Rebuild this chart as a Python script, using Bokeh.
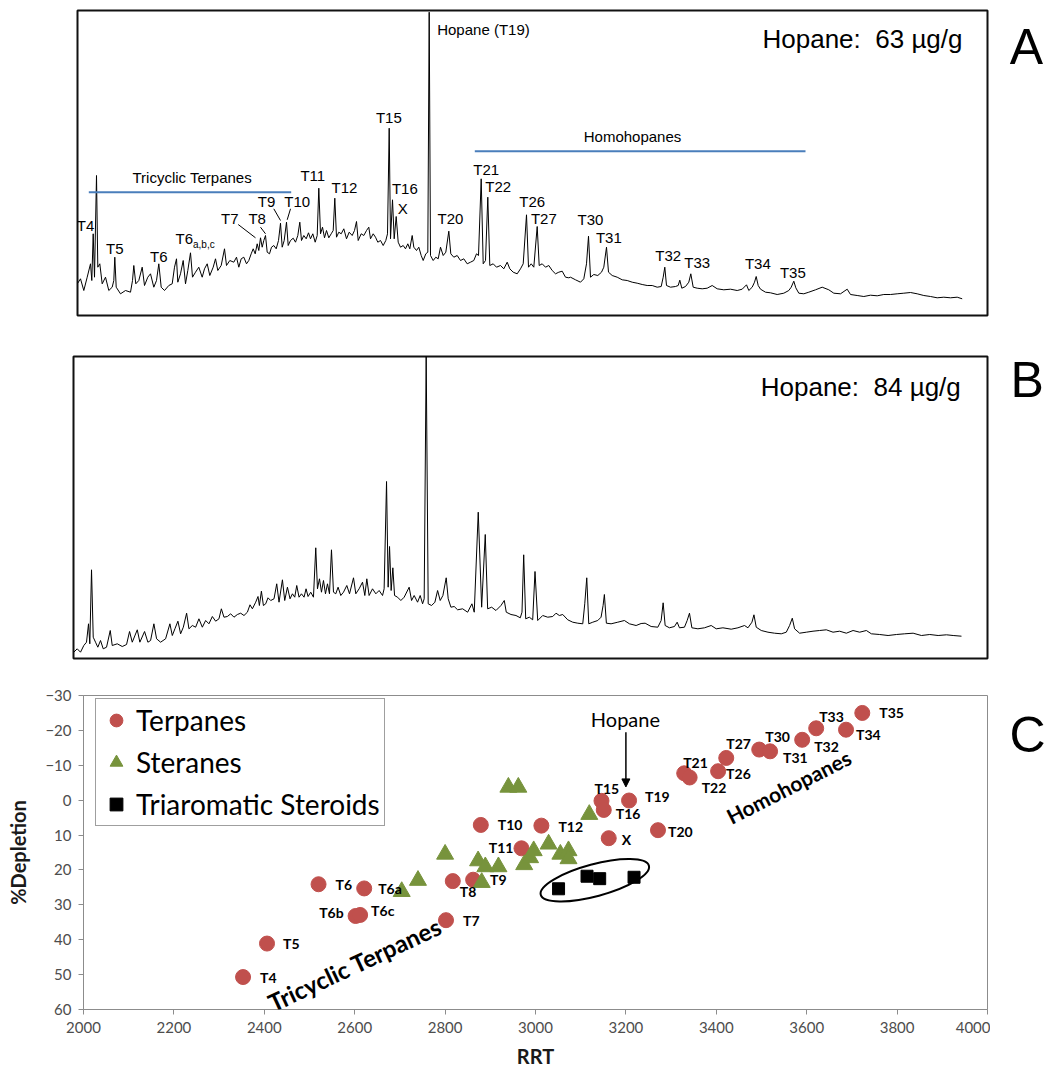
import math
from bokeh.plotting import figure
from bokeh.layouts import column, row
from bokeh.models import (Range1d, Label, Legend, LegendItem, FixedTicker, Arrow,
                          NormalHead)
from bokeh.core.properties import value
from bokeh.embed import file_html
from bokeh.resources import INLINE

# ---------------------------------------------------------------- DATA
# Panel A chromatogram (m/z 191), scan vs abundance
a_scan = [
    0, 3, 6.3, 9.7, 13, 14.3, 15.7, 17, 19, 20.3,
    22.3, 24.7, 28, 31.3, 34.7, 36.3, 37.3, 38.7, 43, 48,
    53, 55, 56.3, 58.3, 61.3, 64.7, 67, 70.3, 73, 76.3,
    79, 81.3, 83.7, 87, 91.3, 94.7, 97, 99, 100.3, 103,
    105.7, 108, 110.3, 113, 115, 118, 121.3, 124.7, 127, 129.7,
    132.3, 135.7, 138, 140.3, 143.7, 147, 149, 152.3, 156.3, 159,
    161.3, 163.7, 166.3, 169, 171.3, 173.7, 175.7, 177.7, 179.7, 181.3,
    183, 184.7, 186.3, 188, 189.7, 192, 194, 196.3, 198.7, 201,
    203, 204.7, 206.7, 209, 210.7, 213, 215.7, 218, 220.3, 222.3,
    224, 226.3, 228.7, 231, 233, 235.3, 237.7, 239.7, 241.3, 243,
    245, 247, 249, 251.3, 253.7, 255.7, 257.3, 259, 261.3, 263.7,
    266.3, 269, 271.7, 274.7, 277, 279, 280.7, 283.7, 286.3, 289,
    291.3, 293, 295.7, 298, 300.3, 303, 305.7, 308.3, 310, 311.7,
    313, 315, 316.7, 318.7, 320.7, 323, 325.7, 328, 330.3, 332.3,
    334.7, 336.3, 339, 341.3, 343.7, 345.7, 348.3, 350.3, 351.7, 353,
    355.7, 358.3, 360.7, 363, 365.7, 368.3, 371.3, 373.3, 376.3, 379.7,
    383, 386.3, 389.7, 393, 396.3, 399, 401, 403.7, 405.7, 408,
    410.3, 412.3, 415.7, 419, 423, 426.3, 429.7, 432.3, 435.7, 439.7,
    443, 445.7, 449, 451, 453.7, 456.3, 459.7, 461.7, 464.7, 468,
    471.3, 474.7, 478, 481.3, 484.7, 488, 491.3, 493, 498, 503,
    506.3, 509, 511, 513, 516.3, 520.3, 524, 526.3, 529, 531,
    534.7, 539.7, 544.7, 549.7, 554.7, 559.7, 564.7, 569.7, 574.7, 579.7,
    583.7, 585.7, 587.3, 589, 593, 598, 600.7, 602.3, 604.3, 608,
    611.3, 613.3, 615.7, 619.7, 624.7, 629.7, 634.7, 639.7, 646.3, 653,
    659.7, 664.7, 669, 671.3, 674.7, 677, 678.7, 680.7, 683, 688,
    693, 699.7, 706.3, 711.3, 713.7, 716.3, 718.3, 721.3, 726.3, 731.3,
    738, 744.7, 751.3, 756.3, 763, 769.7, 773, 779.7, 786.3, 793,
    799.7, 806.3, 813, 819.7, 826.3, 833, 839.7, 846.3, 853, 859.7,
    866.3, 873, 879.7, 884.7,
]
a_abund = [
    32, 36.7, 25, 38.3, 51.7, 35, 81.7, 38.3, 140, 48.3,
    51.7, 31.7, 38.3, 25, 28.3, 35, 58.3, 28.3, 21.7, 25,
    23.3, 35, 50, 31.7, 35, 48.3, 30, 38.3, 41.7, 28.3,
    35, 51.7, 28.3, 25, 30, 31.7, 48.3, 56.7, 33.3, 41.7,
    55, 31.7, 45, 62.7, 38.3, 43.3, 48.3, 38.3, 46.7, 51.7,
    40, 48.3, 56.7, 45, 50, 66.7, 50, 55, 53.3, 58.3,
    48.3, 56.7, 58.3, 51.7, 55, 61.7, 66.7, 61.7, 71.7, 65,
    77.7, 68.3, 75, 80, 63.3, 61.7, 68.3, 70, 66.7, 75,
    92.3, 68.3, 75, 93.3, 70, 75, 77.3, 73.3, 80, 93.3,
    75, 80, 76.7, 82.7, 76.7, 81.7, 73.3, 80, 127.3, 81.7,
    88.3, 77.7, 85, 77.7, 81.7, 85, 117.3, 78.3, 83.3, 81.7,
    86.7, 76.7, 83.3, 80, 85, 94, 75, 81.7, 80, 85,
    88.3, 76.7, 81.7, 78.3, 73.3, 75, 70, 75, 81.7, 187.3,
    76.7, 115.7, 76.7, 99, 73.3, 68.3, 70, 66.7, 71.7, 66.7,
    80, 68.3, 65, 68.3, 60, 55, 61.7, 63.3, 303.3, 60,
    55, 58.3, 56.7, 68.3, 60, 63.3, 84.3, 61.7, 58.3, 60,
    55, 56.7, 51.7, 53.3, 55, 61.7, 60, 136.7, 51.7, 55,
    118.3, 50, 51.7, 48.3, 50, 46.7, 53.3, 46.7, 43.3, 41.7,
    46.7, 51.7, 100.7, 48.3, 51.7, 48.3, 89, 50, 51.7, 48.3,
    50, 45, 41.7, 43.3, 44.3, 38.3, 37.7, 38.3, 35.7, 33.3,
    36.7, 51.7, 79.3, 38.3, 41, 40, 43.3, 48.3, 68.3, 43.3,
    40, 38.3, 35.7, 35, 33.3, 32.3, 31, 30, 30, 28.3,
    29, 38.3, 48.3, 30, 28.3, 29, 30, 35.3, 27.3, 29,
    33.3, 41.7, 28.3, 27.3, 26.7, 27.3, 30, 26.7, 25.7, 26.3,
    25, 26.3, 30.7, 25, 28.3, 33.3, 39, 30, 26.3, 23.3,
    22.7, 21, 22.3, 25, 28.3, 34.3, 27.7, 22.3, 21.7, 23.3,
    25.7, 28.3, 25.7, 22.3, 21.7, 26.3, 21, 20, 19, 20.3,
    19.7, 21, 21, 21.7, 22.3, 23, 21.7, 20, 19, 17.7,
    18.3, 17.7, 18.3, 16.7,
]

# Panel B chromatogram
b_scan = [
    0.3, 3.7, 7, 10.3, 13, 15, 16.3, 18, 19.7, 22,
    24.3, 27, 29.7, 33, 36.7, 38.7, 43.7, 48.7, 53, 56,
    58.7, 63.7, 66.3, 71, 74.3, 77, 80.3, 83, 87, 92,
    96.3, 98.7, 101.3, 104.3, 107, 109.7, 113, 115.3, 118.7, 122,
    125.3, 128.7, 132, 135.3, 138.7, 142, 145.3, 147.7, 150.3, 153.7,
    157, 160.3, 163.7, 167, 170.3, 173.7, 176.3, 178.7, 182, 184.3,
    185.7, 187.7, 189.7, 192, 194.3, 197, 200.3, 203, 205.3, 208.7,
    211, 213.7, 216.3, 218.7, 221, 223, 225.3, 227.7, 230.3, 232.3,
    234.3, 237, 239.7, 242, 243.7, 245.7, 247.7, 249.7, 251.7, 253.7,
    255.7, 257.7, 259.7, 262, 264.3, 267, 269.7, 273, 275.7, 279.7,
    282, 285.3, 288.7, 291, 293, 295.3, 298.7, 302, 305.3, 308.7,
    310.3, 312.7, 314.3, 315.7, 317.3, 319, 320.7, 323.7, 327, 330.3,
    335.3, 337.7, 340.3, 343.7, 346.3, 348.7, 350.3, 352.3, 354.3, 357.7,
    361, 363.7, 366.3, 369, 372.3, 374.3, 377, 380.3, 383.7, 388.7,
    393.7, 398, 400.3, 404.3, 407.7, 411.3, 413.7, 417.7, 422, 427,
    430.3, 432.3, 437, 442, 446.3, 448, 449.7, 451.7, 455.3, 458.7,
    461, 463.7, 468.7, 473.7, 478.7, 482, 485.3, 488.7, 493.7, 498.7,
    503.7, 508.7, 510.7, 512.7, 514.7, 518.7, 523.7, 527, 529, 530.3,
    532.3, 537, 543.7, 550.3, 555.3, 562, 567, 571, 577, 583.7,
    587, 589, 591, 595.3, 600.3, 603, 605.3, 610.3, 613, 615.3,
    617.7, 623.7, 630.3, 637, 642, 648.7, 657, 663.7, 670.3, 673.7,
    677.7, 679.7, 682, 687, 693.7, 700.3, 707, 712, 715.3, 718,
    720.3, 725.3, 732, 738.7, 745.3, 752, 758.7, 765.3, 772, 778.7,
    785.3, 792, 797, 805.3, 813.7, 822, 830.3, 838.7, 847, 855.3,
    863.7, 872, 878.7, 887,
]
b_abund = [
    6.3, 9.7, 6.3, 13, 16.3, 34.7, 14.7, 88.7, 21.3, 16.3,
    11.3, 18, 9.7, 11.3, 28, 13, 14.7, 12, 14, 27,
    16.3, 28.7, 16.3, 27, 16.3, 18, 34.7, 19.7, 16.3, 19.7,
    34.7, 23, 29.7, 37.3, 24.7, 31.3, 45.3, 29.7, 33, 31.3,
    39.7, 31.3, 38, 34.7, 42, 37.3, 39.7, 49.7, 41.3, 42,
    44.7, 41.3, 44, 45.3, 43, 46.3, 53.7, 49.7, 56.3, 62,
    53, 67.3, 53, 54.7, 60.7, 58, 59.7, 74.7, 56.3, 78.7,
    58, 71.3, 59.7, 64.7, 61.3, 73, 61.3, 64.7, 61.3, 69.7,
    62, 66.3, 61.3, 110.7, 69.7, 79.7, 66.3, 78, 64.7, 74.7,
    64.7, 108.7, 66.3, 64.7, 71.3, 63, 66.3, 73, 64.7, 80.7,
    64.7, 69.7, 76.3, 63, 79.7, 63, 69.7, 64.7, 68, 63,
    69.7, 177, 71.3, 112, 68, 90.7, 63, 61.3, 58, 61.3,
    71.3, 58, 63, 56.3, 63, 54.7, 59.7, 303, 54.7, 53,
    56.3, 68, 58, 63, 80.7, 59.7, 51.3, 52, 48.7, 49.7,
    46.3, 54.7, 46.3, 146.3, 51.3, 124, 49.7, 51.3, 48, 53,
    58, 46.3, 44, 43, 40.7, 46.3, 103.7, 39.7, 41.3, 38.7,
    87, 38, 43, 41.3, 42, 45.3, 43, 44, 38.7, 36.3,
    35.3, 34.7, 54.7, 80.7, 34.7, 36.3, 38, 41.3, 53, 64,
    35.3, 34.7, 36.3, 38, 34.7, 33, 35, 35.3, 32, 31.3,
    38, 55.7, 33, 30.7, 32, 36.3, 30.7, 31.3, 38, 45.3,
    30.7, 29.7, 30.7, 33, 29.7, 30.7, 29.3, 30.7, 33, 30.7,
    36.3, 43.7, 31.3, 28, 26.3, 25.3, 24.7, 26.3, 33, 40.3,
    29.7, 25.3, 26.3, 27.3, 28, 28.7, 26.3, 27.3, 25.3, 28,
    26.3, 28, 24.7, 24, 23, 24, 24.7, 25.3, 23, 24,
    23, 23.7, 23, 22.3,
]

hopane_a = "Hopane:\u00a0 63 µg/g"
hopane_b = "Hopane:\u00a0 84 µg/g"

# Panel C: % depletion vs relative retention time
terp_names = ["T4", "T5", "T6", "T6a", "T6b", "T6c", "T7", "T8", "T9", "T10",
              "T11", "T12", "T15", "T16", "X", "T19", "T20", "T21", "T22", "T26",
              "T27", "T30", "T31", "T32", "T33", "T34", "T35"]
terp_rrt = [2353, 2406, 2520, 2621, 2602, 2612, 2802, 2817, 2862, 2879,
            2969, 3013, 3146, 3151, 3162, 3207, 3271, 3329, 3341, 3404,
            3422, 3495, 3519, 3590, 3621, 3687, 3723]
terp_dep = [50.7, 41.1, 24.1, 25.3, 33.2, 32.9, 34.4, 23.2, 22.8, 7.1,
            13.8, 7.3, 0.2, 2.8, 10.9, 0.1, 8.6, -7.7, -6.5, -8.3,
            -12.1, -14.5, -14.0, -17.3, -20.6, -20.2, -25.0]

ster_rrt = [2704, 2740, 2800, 2873, 2889, 2881, 2918, 2940, 2962, 2975,
            2988, 2996, 3029, 3055, 3073, 3073, 3119]
ster_dep = [26.2, 23.0, 15.5, 17.4, 19.1, 23.6, 19.1, -3.7, -3.7, 18.5,
            16.5, 14.5, 12.6, 15.5, 14.5, 16.8, 4.1]

tas_rrt = [3051, 3114, 3142, 3218]
tas_dep = [25.4, 21.8, 22.5, 22.1]

# ---------------------------------------------------------------- LAYOUT / STYLE
SANS = "Liberation Sans"
CAL = "Lato"
BLUE = "#4a7ebb"
RED = "#C0504D"
GREEN = "#77933C"
GREY = "#8c8c8c"

# peak annotations in panel A: (text, scan, abundance)
A_LABELS = [("T4", 8, 90), ("T5", 37.3, 66.7), ("T6", 81.3, 59),
            ("T7", 152.3, 96.7), ("T8", 179.7, 96.7), ("T9", 189, 114),
            ("T10", 219.7, 114), ("T11", 235.3, 140), ("T12", 267, 128.3),
            ("T15", 311.3, 198.3), ("T16", 327.3, 126.7), ("X", 325.3, 107.3),
            ("T20", 373, 97.3), ("T21", 408.7, 145.7), ("T22", 420.7, 129),
            ("T26", 454.7, 114), ("T27", 466.3, 96.7), ("T30", 513, 95.7),
            ("T31", 531.3, 77.7), ("T32", 590.7, 60), ("T33", 619.7, 53.3),
            ("T34", 680.3, 51.7), ("T35", 715.3, 43.3)]
A_LEADERS = [(160.7, 91, 178, 77.7), (183, 88.3, 188, 81.7),
             (196.3, 106.7, 203, 95), (213, 106.7, 209.7, 95.7)]

# label offsets (screen px) for panel C
C_OFF = {"T4": (17, 0), "T5": (16, 0), "T6": (17, 0), "T6a": (14, 0),
         "T6b": (-12, -3), "T6c": (11, -4), "T7": (17, 0), "T8": (7, 10),
         "T9": (17, 0), "T10": (17, 0), "T11": (-8, -1), "T12": (17, 1),
         "T15": (-7, -12), "T16": (12, 4), "X": (13, 1), "T19": (16, -4),
         "T20": (10, 1), "T21": (-1, -11), "T22": (12, 10), "T26": (8, 2),
         "T27": (0, -14), "T30": (6, -13), "T31": (13, 6), "T32": (12, 7),
         "T33": (3, -12), "T34": (10, 5), "T35": (17, 0)}
C_RIGHT = {"T6b", "T11"}


def chrom_fig(height, left, top, bottom, xmax, ymax):
    p = figure(width=990, height=height, x_range=Range1d(0, xmax),
               y_range=Range1d(0, ymax), output_backend="svg",
               toolbar_location=None, x_axis_location=None, y_axis_location=None,
               min_border_left=left, min_border_right=3,
               min_border_top=top, min_border_bottom=bottom, frame_align=False)
    p.xgrid.visible = False
    p.ygrid.visible = False
    p.outline_line_color = "#111111"
    p.outline_line_width = 2
    p.background_fill_color = "white"
    p.border_fill_color = "white"
    return p


def letter_fig(height, letter, x, y):
    f = figure(width=57, height=height, x_range=Range1d(0, 57),
               y_range=Range1d(0, height), output_backend="svg",
               toolbar_location=None, x_axis_location=None, y_axis_location=None,
               min_border=0, frame_align=False)
    f.xgrid.visible = False
    f.ygrid.visible = False
    f.outline_line_color = None
    f.text(x=[x], y=[y], text=[letter], text_align="center",
           text_baseline="alphabetic", text_font=value(SANS),
           text_font_size="50px", text_color="black")
    return f


# ---------------------------------------------------------------- PANEL A
pa = chrom_fig(335, 77, 10, 20, 910, 305)
pa.line(a_scan, a_abund, line_color="black", line_width=1)
pa.segment(x0=[11.3, 397.3], y0=[123.3, 164.3], x1=[213.7, 728], y1=[123.3, 164.3],
           line_color=BLUE, line_width=2)
pa.segment(x0=[s[0] for s in A_LEADERS], y0=[s[1] for s in A_LEADERS],
           x1=[s[2] for s in A_LEADERS], y1=[s[3] for s in A_LEADERS],
           line_color="black", line_width=1)
pa.text(x=[l[1] for l in A_LABELS], y=[l[2] for l in A_LABELS],
        text=[l[0] for l in A_LABELS], text_align="center", text_baseline="middle",
        text_font=value(SANS), text_font_size="15px", text_color="black")
pa.add_layout(Label(x=98, y=76.7, text="T6", text_font=SANS, text_font_size="15px",
                    text_baseline="middle", text_color="black"))
pa.add_layout(Label(x=115.5, y=71.5, text="a,b,c", text_font=SANS,
                    text_font_size="10px", text_baseline="middle", text_color="black"))
pa.add_layout(Label(x=359.7, y=285.7, text="Hopane (T19)", text_font=SANS,
                    text_font_size="15px", text_baseline="middle", text_color="black"))
pa.add_layout(Label(x=114.7, y=138.3, text="Tricyclic Terpanes", text_font=SANS,
                    text_font_size="15px", text_align="center", text_baseline="middle",
                    text_color="black"))
pa.add_layout(Label(x=555, y=179, text="Homohopanes", text_font=SANS,
                    text_font_size="15px", text_align="center", text_baseline="middle",
                    text_color="black"))
pa.add_layout(Label(x=885, y=277, text=hopane_a, text_font=SANS,
                    text_font_size="26px", text_align="right", text_baseline="middle",
                    text_color="black"))
la = letter_fig(335, "A", 36, 289)

# ---------------------------------------------------------------- PANEL B
pb = chrom_fig(340, 73, 21, 17, 913, 302)
pb.line(b_scan, b_abund, line_color="black", line_width=1)
pb.add_layout(Label(x=886.3, y=271.3, text=hopane_b, text_font=SANS,
                    text_font_size="26px", text_align="right", text_baseline="middle",
                    text_color="black"))
lb = letter_fig(340, "B", 36.7, 296)

# ---------------------------------------------------------------- PANEL C
pc = figure(width=990, height=400, x_range=Range1d(2000, 4000),
            y_range=Range1d(60, -30), output_backend="svg", toolbar_location=None,
            min_border_left=83, min_border_right=3, min_border_top=20,
            min_border_bottom=66, frame_align=False)
pc.xgrid.visible = False
pc.ygrid.visible = False
pc.outline_line_color = GREY
pc.background_fill_color = "white"
pc.border_fill_color = "white"
pc.xaxis.ticker = FixedTicker(ticks=list(range(2000, 4001, 200)))
pc.yaxis.ticker = FixedTicker(ticks=list(range(-30, 61, 10)))
pc.xaxis.axis_label = "RRT"
pc.yaxis.axis_label = "%Depletion"
for ax in (pc.xaxis[0], pc.yaxis[0]):
    ax.axis_line_color = GREY
    ax.major_tick_line_color = GREY
    ax.minor_tick_line_color = None
    ax.major_tick_out = 5
    ax.major_tick_in = 0
    ax.major_label_text_font = CAL
    ax.major_label_text_font_size = "15px"
    ax.major_label_text_color = "#4d4d4d"
    ax.major_label_standoff = 7
    ax.axis_label_text_font = CAL
    ax.axis_label_text_font_style = "bold"
    ax.axis_label_text_font_size = "20px"
    ax.axis_label_text_color = "#1a1a1a"
pc.xaxis.axis_label_standoff = 8
pc.yaxis.axis_label_standoff = 12

# ellipse around the triaromatic steroids
cx = sum(tas_rrt) / len(tas_rrt)
cy = sum(tas_dep) / len(tas_dep)
pc.ellipse(x=[cx], y=[cy], width=[112], height=[32], width_units="screen",
           height_units="screen", angle=[math.radians(15)], fill_color=None,
           line_color="black", line_width=2)

r_t = pc.scatter(terp_rrt, terp_dep, marker="circle", size=15,
                 fill_color=RED, line_color=RED)
r_s = pc.scatter(ster_rrt, ster_dep, marker="triangle", size=17,
                 fill_color=GREEN, line_color=GREEN)
r_a = pc.scatter(tas_rrt, tas_dep, marker="square", size=12,
                 fill_color="black", line_color="black")

for right in (False, True):
    idx = [i for i, n in enumerate(terp_names) if (n in C_RIGHT) == right]
    pc.text(x=[terp_rrt[i] for i in idx], y=[terp_dep[i] for i in idx],
            text=[terp_names[i] for i in idx],
            x_offset=[C_OFF[terp_names[i]][0] for i in idx],
            y_offset=[C_OFF[terp_names[i]][1] for i in idx],
            text_align="right" if right else "left", text_baseline="middle",
            text_font=value(CAL), text_font_style="bold", text_font_size="14px",
            text_color="black")

pc.add_layout(Arrow(end=NormalHead(size=8, fill_color="black", line_color="black"),
                    x_start=3200, y_start=-19.5, x_end=3200, y_end=-3.8,
                    line_color="black", line_width=1.5))
pc.add_layout(Label(x=3199, y=-23.3, text="Hopane", text_font=CAL,
                    text_font_size="20px", text_align="center", text_baseline="middle",
                    text_color="black"))
pc.add_layout(Label(x=2600, y=47, text="Tricyclic Terpanes", text_font=CAL,
                    text_font_style="bold", text_font_size="24px", text_align="center",
                    text_baseline="middle", angle=math.radians(25), text_color="black"))
pc.add_layout(Label(x=3560, y=-3.9, text="Homohopanes", text_font=CAL,
                    text_font_style="bold", text_font_size="21px", text_align="center",
                    text_baseline="middle", angle=math.radians(27), text_color="black"))

legend = Legend(items=[LegendItem(label="Terpanes", renderers=[r_t]),
                       LegendItem(label="Steranes", renderers=[r_s]),
                       LegendItem(label="Triaromatic Steroids", renderers=[r_a])],
                location=(12, 183))
legend.label_text_font = CAL
legend.label_text_font_size = "28px"
legend.label_text_color = "black"
legend.label_height = 32
legend.glyph_height = 32
legend.glyph_width = 32
legend.spacing = 8
legend.padding = 4
legend.label_standoff = 4
legend.margin = 0
legend.border_line_color = "#404040"
legend.border_line_width = 1
legend.background_fill_alpha = 1
pc.add_layout(legend)
lc = letter_fig(400, "C", 37, 341)

layout = column(row(pa, la, spacing=0), row(pb, lb, spacing=0),
                row(pc, lc, spacing=0), spacing=0)
open("out.html", "w").write(file_html(layout, INLINE))
